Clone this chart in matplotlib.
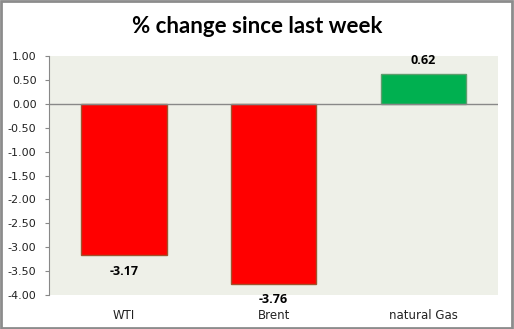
import matplotlib.pyplot as plt
import numpy as np
from matplotlib.patches import Rectangle

# weekly price change, percent
categories = ['WTI', 'Brent', 'natural Gas']
changes = [-3.17, -3.76, 0.62]
yticks = [1.0, 0.5, 0.0, -0.5, -1.0, -1.5, -2.0, -2.5, -3.0, -3.5, -4.0]

fig = plt.figure(figsize=(5.14, 3.29), dpi=100)
fig.patch.set_facecolor('white')
ax = fig.add_axes([0.0953, 0.103, 0.874, 0.727])
ax.set_facecolor('#EEF0E8')

x = np.arange(len(categories))
colors = ['#FF0000' if v < 0 else '#00B050' for v in changes]
edges = ['#A0522D' if v < 0 else '#5E9E6E' for v in changes]
ax.bar(x, changes, width=0.57, color=colors, edgecolor=edges, linewidth=1.0, zorder=3)

ax.set_xlim(-0.5, len(categories) - 0.5)
ax.set_ylim(-4, 1)
ax.set_yticks(yticks)
ax.set_yticklabels(['%.2f' % t for t in yticks])
ax.axhline(0, color='#888888', linewidth=1.0, zorder=4)

for s in ['top', 'right', 'bottom']:
    ax.spines[s].set_visible(False)
ax.spines['left'].set_color('#888888')
ax.tick_params(axis='y', length=3, color='#888888', labelsize=8, pad=6)
ax.tick_params(axis='x', length=0, labelsize=8.5, pad=10)
ax.set_xticks(x)
ax.set_xticklabels(categories)
for lab in ax.get_xticklabels() + ax.get_yticklabels():
    lab.set_fontfamily('DejaVu Sans')
    lab.set_color('#222222')

# value labels
for xi, v in zip(x, changes):
    if v < 0:
        ax.annotate('%.2f' % v, (xi, v), xytext=(0, -7), textcoords='offset points',
                    ha='center', va='top', fontsize=9, fontweight='bold',
                    family='Open Sans', annotation_clip=False)
    else:
        ax.annotate('%.2f' % v, (xi, v), xytext=(0, 5), textcoords='offset points',
                    ha='center', va='bottom', fontsize=9, fontweight='bold',
                    family='Open Sans')

fig.text(0.5, 0.92, '% change since last week', ha='center', va='center',
         fontsize=16, fontweight='bold', family='Lato')

# outer frame
fig.patches.append(Rectangle((0.002, 0.004), 0.994, 0.992, transform=fig.transFigure,
                             fill=False, edgecolor='#8C8C8C', linewidth=2))

fig.savefig('out.png', dpi=100)
